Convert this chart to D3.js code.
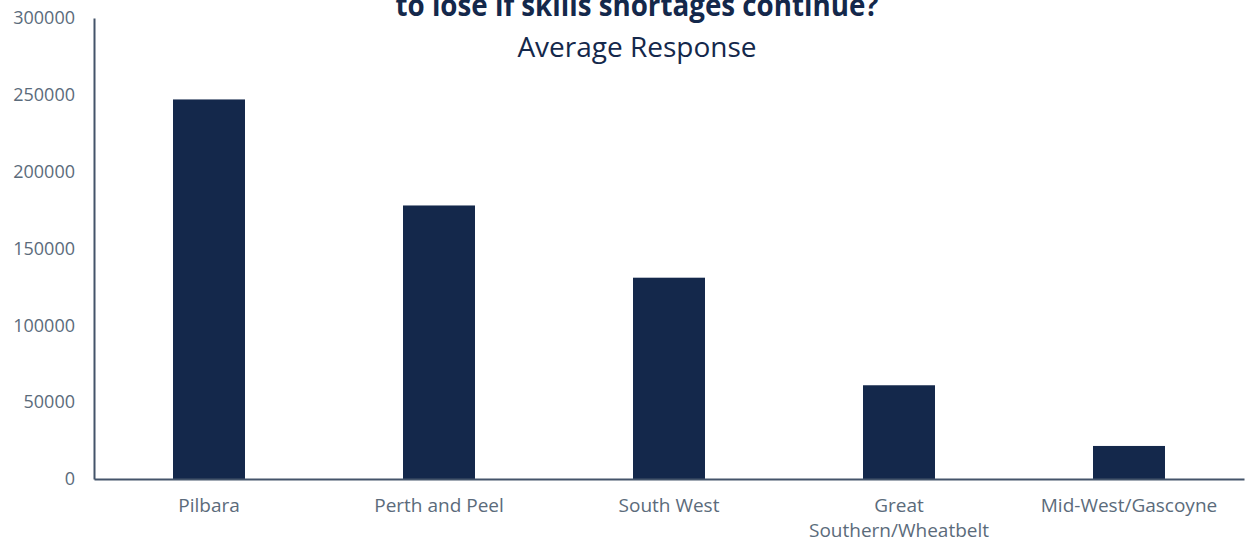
<!DOCTYPE html>
<html>
<head>
<meta charset="utf-8">
<script src="https://cdn.jsdelivr.net/npm/d3@7"></script>
<style>
  body { margin: 0; background: #fff; }
  svg text { font-family: "Open Sans", sans-serif; }
</style>
</head>
<body>
<div id="chart"></div>
<script>
// regions and the average response for each
const regions = ["Pilbara", "Perth and Peel", "South West", "Great Southern/Wheatbelt", "Mid-West/Gascoyne"];
const labelLines = [["Pilbara"], ["Perth and Peel"], ["South West"], ["Great", "Southern/Wheatbelt"], ["Mid-West/Gascoyne"]];
const averages = [247000, 178000, 131000, 61000, 21500];
const yTicks = [0, 50000, 100000, 150000, 200000, 250000, 300000];

const width = 1246, height = 542;
const margin = { top: 18, right: 2, bottom: 63, left: 94 };

const svg = d3.select("#chart").append("svg")
    .attr("width", width)
    .attr("height", height);

const x = d3.scaleBand()
    .domain(regions)
    .range([margin.left, width - margin.right])
    .paddingInner(0.687)
    .paddingOuter(0.3435);

const y = d3.scaleLinear()
    .domain([0, 300000])
    .range([height - margin.bottom, margin.top]);

// bars
svg.selectAll(".bar")
    .data(averages)
    .join("rect")
    .attr("class", "bar")
    .attr("x", (d, i) => x(regions[i]))
    .attr("y", d => y(d))
    .attr("width", x.bandwidth())
    .attr("height", d => y(0) - y(d))
    .attr("fill", "#14284b");

// y axis
const yAxis = d3.axisLeft(y).tickValues(yTicks).tickSize(0).tickPadding(19).tickFormat(d3.format("d"));
const yg = svg.append("g")
    .attr("transform", `translate(${margin.left},0)`)
    .call(yAxis);
yg.select(".domain").attr("stroke", "#44546a").attr("stroke-width", 2);
yg.selectAll("text").attr("font-size", 18).attr("fill", "#5b6b7b").attr("font-family", "Open Sans");

// x axis
const xg = svg.append("g")
    .attr("transform", `translate(0,${y(0)})`)
    .call(d3.axisBottom(x).tickSize(0).tickFormat(""));
xg.select(".domain").attr("stroke", "#44546a").attr("stroke-width", 2);

xg.selectAll(".tick").each(function(d, i) {
    const t = d3.select(this).append("text")
        .attr("fill", "#5b6b7b")
        .attr("font-size", 19)
        .attr("font-family", "Open Sans")
        .attr("text-anchor", "middle");
    labelLines[i].forEach((line, k) => {
        t.append("tspan").attr("x", 0).attr("y", 33 + k * 25).text(line);
    });
});

// title (top line is cropped in the original), squeezed to look condensed
svg.append("text")
    .attr("x", 637)
    .attr("y", 16)
    .attr("text-anchor", "middle")
    .attr("font-family", "Open Sans, sans-serif")
    .attr("font-weight", "bold")
    .attr("font-size", 31)
    .attr("textLength", 483)
    .attr("lengthAdjust", "spacingAndGlyphs")
    .attr("fill", "#14284b")
    .text("to lose if skills shortages continue?");

svg.append("text")
    .attr("x", 637)
    .attr("y", 57)
    .attr("text-anchor", "middle")
    .attr("font-size", 28)
    .attr("fill", "#14284b")
    .text("Average Response");
</script>
</body>
</html>
